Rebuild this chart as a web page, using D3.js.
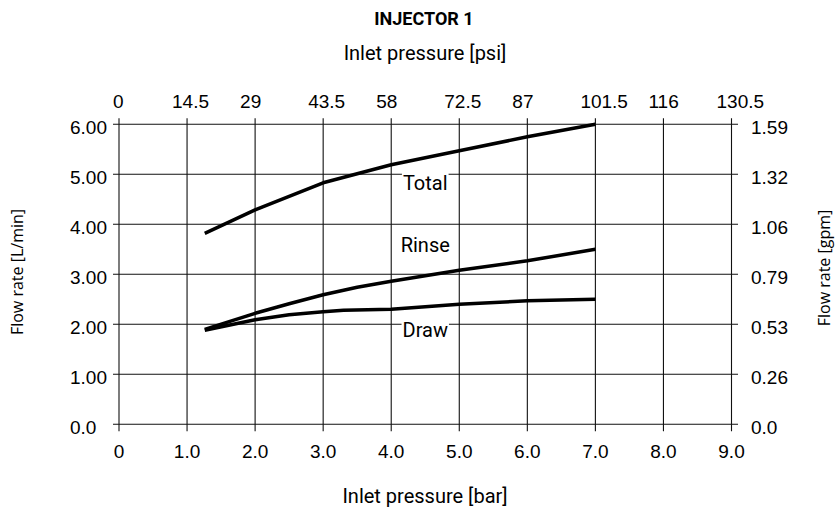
<!DOCTYPE html>
<html>
<head>
<meta charset="utf-8">
<script src="https://cdn.jsdelivr.net/npm/d3@7"></script>
<style>
  body { margin: 0; background: #fff; }
  svg { display: block; }
</style>
</head>
<body>
<svg id="chart"></svg>
<script>
// Data
const barTicks = [0, 1, 2, 3, 4, 5, 6, 7, 8, 9];
const barLabels = ["0", "1.0", "2.0", "3.0", "4.0", "5.0", "6.0", "7.0", "8.0", "9.0"];
const psiLabels = ["0", "14.5", "29", "43.5", "58", "72.5", "87", "101.5", "116", "130.5"];
const flowTicks = [0, 1, 2, 3, 4, 5, 6];
const flowLabels = ["0.0", "1.00", "2.00", "3.00", "4.00", "5.00", "6.00"];
const gpmLabels = ["0.0", "0.26", "0.53", "0.79", "1.06", "1.32", "1.59"];

const totalPressure = [1.26, 2, 3, 4, 5, 6, 7];
const totalFlow = [3.82, 4.29, 4.83, 5.19, 5.47, 5.75, 6.0];
const rinsePressure = [1.26, 2, 2.5, 3, 3.5, 4, 5, 6, 7];
const rinseFlow = [1.90, 2.22, 2.41, 2.59, 2.74, 2.86, 3.08, 3.27, 3.50];
const drawPressure = [1.26, 2, 2.5, 3, 3.3, 4, 5, 6, 7];
const drawFlow = [1.88, 2.09, 2.19, 2.25, 2.28, 2.30, 2.40, 2.47, 2.50];

const curveNames = ["Total", "Rinse", "Draw"];
const labelPressure = [4.5, 4.5, 4.5];
const labelFlow = [4.69, 3.45, 1.75];

const width = 840;
const height = 507;

const x = d3.scaleLinear().domain([0, 9]).range([119, 731.5]);
const y = d3.scaleLinear().domain([0, 6]).range([424.3, 124.3]);

const svg = d3.select("#chart")
    .attr("width", width)
    .attr("height", height);

const din = "Roboto, 'DejaVu Sans', sans-serif";
const arial = "'Liberation Sans', Arial, sans-serif";

// titles
svg.append("text")
    .text("INJECTOR 1")
    .attr("x", 424).attr("y", 25)
    .attr("text-anchor", "middle")
    .style("font-family", din).style("font-weight", "bold").style("font-size", "18px");

svg.append("text")
    .text("Inlet pressure [psi]")
    .attr("x", 425).attr("y", 60)
    .attr("text-anchor", "middle")
    .style("font-family", din).style("font-size", "20px");

svg.append("text")
    .text("Inlet pressure [bar]")
    .attr("x", 425).attr("y", 503)
    .attr("text-anchor", "middle")
    .style("font-family", din).style("font-size", "20px");

svg.append("text")
    .text("Flow rate [L/min]")
    .attr("transform", "translate(23,272) rotate(-90)")
    .attr("text-anchor", "middle")
    .style("font-family", "'Open Sans', sans-serif").style("font-size", "16px");

svg.append("text")
    .text("Flow rate [gpm]")
    .attr("transform", "translate(830,268) rotate(-90)")
    .attr("text-anchor", "middle")
    .style("font-family", "'Open Sans', sans-serif").style("font-size", "16px");

// grid with outward ticks
const grid = svg.append("g").attr("stroke", "#111").attr("stroke-width", 1.1);

grid.selectAll(".v")
    .data(barTicks)
    .enter()
    .append("line")
    .attr("x1", d => x(d)).attr("x2", d => x(d))
    .attr("y1", y(6) - 6).attr("y2", y(0) + 7);

grid.selectAll(".h")
    .data(flowTicks)
    .enter()
    .append("line")
    .attr("x1", x(0) - 6).attr("x2", x(9) + 6.5)
    .attr("y1", d => y(d)).attr("y2", d => y(d));

// tick labels
svg.selectAll(".bar-label")
    .data(barTicks)
    .enter()
    .append("text")
    .text((d, i) => barLabels[i])
    .attr("x", d => x(d))
    .attr("y", y(0) + 34)
    .attr("text-anchor", "middle")
    .style("font-family", arial).style("font-size", "19px");

svg.selectAll(".psi-label")
    .data(barTicks)
    .enter()
    .append("text")
    .text((d, i) => psiLabels[i])
    .attr("x", (d, i) => x(d) + (i === 0 ? -6 : -15))
    .attr("y", 107.5)
    .style("font-family", arial).style("font-size", "19px");

svg.selectAll(".flow-label")
    .data(flowTicks)
    .enter()
    .append("text")
    .text((d, i) => flowLabels[i])
    .attr("x", 70)
    .attr("y", d => y(d) + 9.5)
    .style("font-family", arial).style("font-size", "19px");

svg.selectAll(".gpm-label")
    .data(flowTicks)
    .enter()
    .append("text")
    .text((d, i) => gpmLabels[i])
    .attr("x", 751)
    .attr("y", d => y(d) + 9.5)
    .style("font-family", arial).style("font-size", "19px");

// curves
const series = [
    totalPressure.map((p, i) => [p, totalFlow[i]]),
    rinsePressure.map((p, i) => [p, rinseFlow[i]]),
    drawPressure.map((p, i) => [p, drawFlow[i]])
];

const line = d3.line()
    .x(d => x(d[0]))
    .y(d => y(d[1]));

svg.selectAll(".curve")
    .data(series)
    .enter()
    .append("path")
    .attr("d", line)
    .attr("fill", "none")
    .attr("stroke", "#000")
    .attr("stroke-width", 3.5)
    .attr("stroke-linejoin", "round");

// curve labels on white boxes
curveNames.forEach((name, i) => {
    const g = svg.append("g");
    const t = g.append("text")
        .text(name)
        .attr("x", x(labelPressure[i]))
        .attr("y", y(labelFlow[i]))
        .attr("text-anchor", "middle")
        .style("font-family", din).style("font-size", "20px");
    const b = t.node().getBBox();
    g.insert("rect", "text")
        .attr("x", b.x - 1).attr("y", b.y + 2)
        .attr("width", b.width + 2).attr("height", b.height - 4)
        .attr("fill", "#fff");
});
</script>
</body>
</html>
